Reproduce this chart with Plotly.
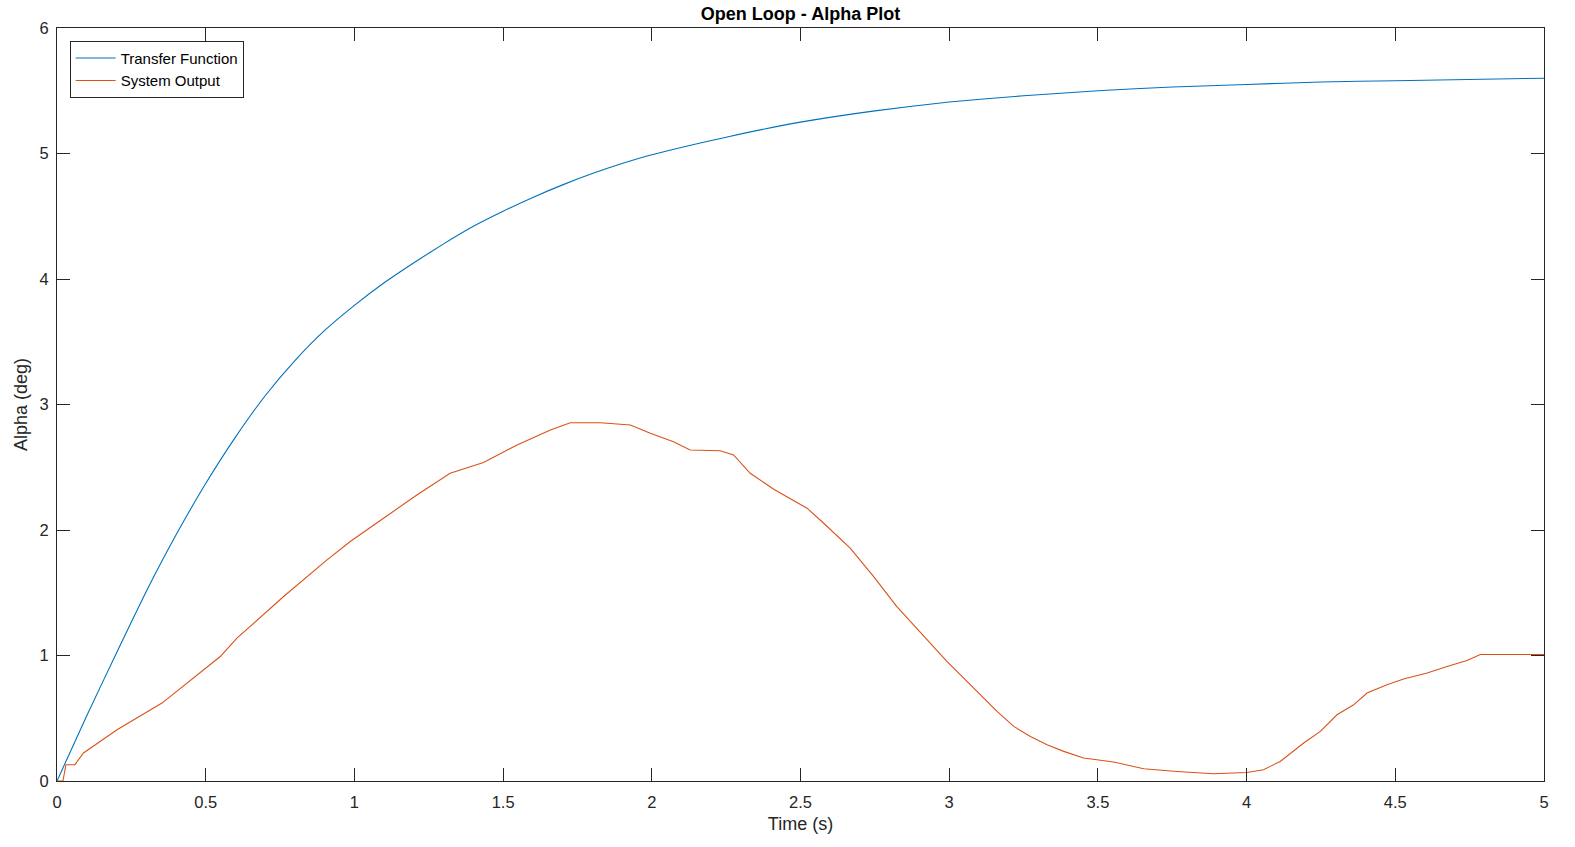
import plotly.graph_objects as go

# Transfer function curve
tf_time = [0, 0.1, 0.2, 0.3, 0.4, 0.5, 0.6, 0.7, 0.8, 0.9, 1.0, 1.1, 1.2, 1.3, 1.4, 1.5,
           1.6, 1.7, 1.8, 1.9, 2.0, 2.25, 2.5, 2.75, 3.0, 3.25, 3.5, 3.75, 4.0, 4.25, 4.5, 5.0]
tf_alpha = [0, 0.52, 1.02, 1.51, 1.96, 2.37, 2.74, 3.07, 3.35, 3.59, 3.79, 3.97, 4.13,
            4.28, 4.42, 4.54, 4.65, 4.75, 4.84, 4.92, 4.99, 5.13, 5.25, 5.34, 5.41, 5.46,
            5.50, 5.53, 5.55, 5.57, 5.58, 5.60]

# System output
out_time = [0, 0.02, 0.03, 0.06, 0.089, 0.202, 0.353, 0.437, 0.549, 0.605, 0.762, 0.908,
            0.986, 1.098, 1.210, 1.322, 1.434, 1.547, 1.659, 1.726, 1.827, 1.928, 1.995,
            2.073, 2.129, 2.230, 2.275, 2.331, 2.410, 2.522, 2.578, 2.667, 2.746, 2.824,
            2.925, 2.993, 3.049, 3.105, 3.161, 3.217, 3.273, 3.329, 3.385, 3.452, 3.553,
            3.654, 3.766, 3.889, 4.001, 4.057, 4.113, 4.192, 4.248, 4.304, 4.360, 4.405,
            4.472, 4.528, 4.607, 4.674, 4.741, 4.786, 5.0]
out_alpha = [0, 0.0, 0.13, 0.13, 0.223, 0.408, 0.621, 0.780, 0.992, 1.138, 1.470, 1.762,
             1.908, 2.094, 2.279, 2.452, 2.537, 2.678, 2.797, 2.855, 2.855, 2.837, 2.771,
             2.704, 2.638, 2.632, 2.598, 2.452, 2.325, 2.174, 2.054, 1.855, 1.629, 1.390,
             1.125, 0.952, 0.820, 0.687, 0.554, 0.435, 0.355, 0.289, 0.236, 0.183, 0.151,
             0.098, 0.076, 0.058, 0.068, 0.090, 0.156, 0.303, 0.395, 0.528, 0.607, 0.701,
             0.767, 0.812, 0.860, 0.913, 0.960, 1.008, 1.008]

x_ticks = [0, 0.5, 1, 1.5, 2, 2.5, 3, 3.5, 4, 4.5, 5]
x_tick_labels = ["0", "0.5", "1", "1.5", "2", "2.5", "3", "3.5", "4", "4.5", "5"]
y_ticks = [0, 1, 2, 3, 4, 5, 6]
y_tick_labels = ["0", "1", "2", "3", "4", "5", "6"]

font_family = "Liberation Sans, Arial, Helvetica, sans-serif"
axis_color = "#262626"

fig = go.Figure()
fig.add_trace(go.Scatter(x=tf_time, y=tf_alpha, mode="lines", name="Transfer Function",
                         line=dict(color="#0072BD", width=1.1, shape="spline", smoothing=0.5)))
fig.add_trace(go.Scatter(x=out_time, y=out_alpha, mode="lines", name="System Output",
                         line=dict(color="#D95319", width=1.1)))

axis_common = dict(showgrid=False, zeroline=False, showline=True, linecolor=axis_color,
                   linewidth=1, mirror="ticks", ticks="inside", ticklen=13, tickwidth=1,
                   tickcolor=axis_color, tickfont=dict(size=16.5, color=axis_color, family=font_family))

fig.update_layout(
    width=1575, height=847,
    paper_bgcolor="white", plot_bgcolor="white",
    margin=dict(l=57, r=31, t=28, b=66),
    font=dict(family=font_family, color=axis_color),
    title=dict(text="<b>Open Loop - Alpha Plot</b>", x=0.5, xref="paper", y=0.984, yanchor="middle",
               font=dict(size=18, color="#000000", family=font_family)),
    xaxis=dict(range=[0, 5], tickvals=x_ticks, ticktext=x_tick_labels, ticklabelstandoff=6,
               title=dict(text="Time (s)", font=dict(size=18, color=axis_color), standoff=7),
               **axis_common),
    yaxis=dict(range=[0, 6], tickvals=y_ticks, ticktext=y_tick_labels, ticklabelstandoff=4,
               title=dict(text="Alpha (deg)", font=dict(size=18, color=axis_color), standoff=7),
               **axis_common),
    legend=dict(x=0.0085, y=0.983, xanchor="left", yanchor="top", bgcolor="white",
                bordercolor=axis_color, borderwidth=1, font=dict(size=15, color="#000000"),
                tracegroupgap=0, itemwidth=40),
    showlegend=True,
)

fig.write_html("out.html")
